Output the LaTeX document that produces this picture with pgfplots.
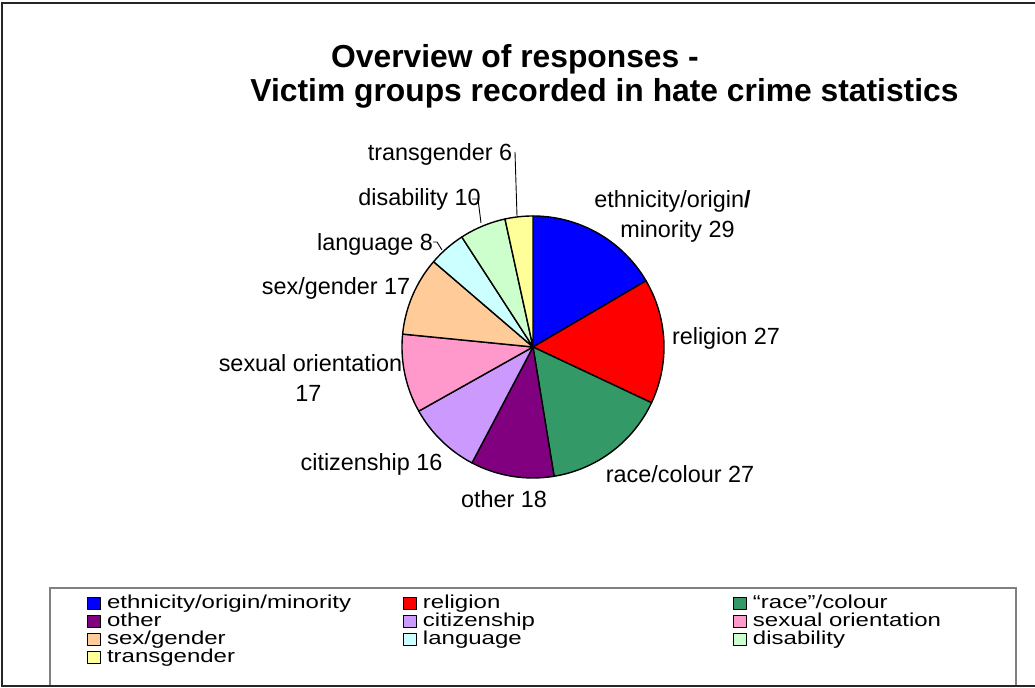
\documentclass[border=0pt]{standalone}
\usepackage{fontspec}
\setmainfont{Liberation Sans}
\usepackage{graphicx}
\usepackage{pgfplots}
\usepackage{pgfplotstable}
\pgfplotsset{compat=1.18}

\definecolor{cEth}{HTML}{0000FF}
\definecolor{cRel}{HTML}{FF0000}
\definecolor{cRace}{HTML}{339966}
\definecolor{cOth}{HTML}{800080}
\definecolor{cCit}{HTML}{CC99FF}
\definecolor{cSex}{HTML}{FF99CC}
\definecolor{cGen}{HTML}{FFCC99}
\definecolor{cLan}{HTML}{CCFFFF}
\definecolor{cDis}{HTML}{CCFFCC}
\definecolor{cTra}{HTML}{FFFF99}

% victim groups, clockwise from 12 o'clock
\pgfplotstableread{
value color
29 cEth
27 cRel
27 cRace
18 cOth
16 cCit
17 cSex
17 cGen
8  cLan
10 cDis
6  cTra
}\piedata

\newcommand\lgx[1]{\scalebox{1}[0.78]{#1}}
\newcommand\lbl{\fontsize{11.7}{14}\selectfont}
\newcommand\ttl{\fontsize{15.9}{19}\selectfont\bfseries}

\begin{document}
\begin{tikzpicture}
\begin{axis}[
  hide axis, scale only axis,
  width=517.5pt, height=344pt,
  xmin=0, xmax=1035, ymin=0, ymax=688,
  clip=false,
  legend columns=3,
  legend cell align=left,
  legend style={
    at={(0.08406,0.13227)}, anchor=north west,
    draw=none, fill=none, inner sep=0pt, outer sep=0pt, row sep=0pt,
    font=\fontsize{12}{12}\selectfont,
    nodes={inner sep=0pt, outer sep=0pt, text height=6pt, text depth=3pt},
    /tikz/every odd column/.style={column sep=3pt},
    /tikz/column 2/.style={nodes={text width=148pt, align=left}},
    /tikz/column 4/.style={nodes={text width=155pt, align=left}},
  },
  legend image code/.code={\draw[#1,draw=black,line width=0.5pt] (0pt,-2pt) rectangle (6.5pt,4pt);},
  legend entries={
    \lgx{ethnicity/origin/minority},
    \lgx{religion},
    \lgx{“race”/colour},
    \lgx{other},
    \lgx{citizenship},
    \lgx{sexual orientation},
    \lgx{sex/gender},
    \lgx{language},
    \lgx{disability},
    \lgx{transgender}},
]
\pgfmathsetmacro\total{0}
\pgfplotsforeachungrouped \i in {0,...,9}{%
  \pgfplotstablegetelem{\i}{value}\of\piedata
  \pgfmathsetmacro\total{\total+\pgfplotsretval}%
}
\def\cum{0}
\pgfplotsforeachungrouped \i in {0,...,9}{%
  \pgfplotstablegetelem{\i}{value}\of\piedata
  \let\wval\pgfplotsretval
  \pgfplotstablegetelem{\i}{color}\of\piedata
  \let\wcol\pgfplotsretval
  \pgfmathsetmacro\wa{\cum/\total*360}%
  \pgfmathsetmacro\cum{\cum+\wval}%
  \pgfmathsetmacro\wb{\cum/\total*360}%
  \edef\doplot{\noexpand\addplot[fill=\wcol, draw=black, line width=0.7pt, line join=round, domain=\wa:\wb, samples=40] ({533+131*sin(x)},{341+131*cos(x)}) -- (axis cs:533,341) -- cycle;}%
  \doplot
}

% title
\node[anchor=base, font=\ttl] at (axis cs:515,620) {Overview of responses -};
\node[anchor=base, font=\ttl] at (axis cs:604.5,586) {Victim groups recorded in hate crime statistics};

% data labels
\node[anchor=base, font=\lbl] at (axis cs:440,527) {transgender 6};
\node[anchor=base, font=\lbl] at (axis cs:419.5,482) {disability 10};
\node[anchor=base, font=\lbl] at (axis cs:375,437.3) {language 8};
\node[anchor=base, font=\lbl] at (axis cs:336,393) {sex/gender 17};
\node[anchor=base, font=\lbl] at (axis cs:310.5,316) {sexual orientation};
\node[anchor=base, font=\lbl] at (axis cs:308.5,286) {17};
\node[anchor=base, font=\lbl] at (axis cs:371.5,217) {citizenship 16};
\node[anchor=base, font=\lbl] at (axis cs:504,180) {other 18};
\node[anchor=base, font=\lbl] at (axis cs:680,205) {race/colour 27};
\node[anchor=base, font=\lbl] at (axis cs:726,343) {religion 27};
\node[anchor=base, font=\lbl] at (axis cs:672.5,480.3) {ethnicity/origin\textbf{/}};
\node[anchor=base, font=\lbl] at (axis cs:677.5,450.7) {minority 29};

% leader lines
\draw[black, line width=0.45pt] (axis cs:515,536) -- (axis cs:517,472);
\draw[black, line width=0.45pt] (axis cs:472,489) -- (axis cs:478,489) -- (axis cs:481,465);
\draw[black, line width=0.45pt] (axis cs:433,446) -- (axis cs:437,446) -- (axis cs:442,438);

% legend box and outer frame
\draw[black!50, line width=0.65pt] (axis cs:50,2) -- (axis cs:50,100) -- (axis cs:1016,100) -- (axis cs:1016,2);
\draw[black!85, line width=1pt] (axis cs:1035,685) -- (axis cs:2,685) -- (axis cs:2,2) -- (axis cs:1035,2);
\end{axis}
\pgfresetboundingbox
\path[use as bounding box] (0,0) rectangle (517.5pt,344pt);
\end{tikzpicture}
\end{document}
